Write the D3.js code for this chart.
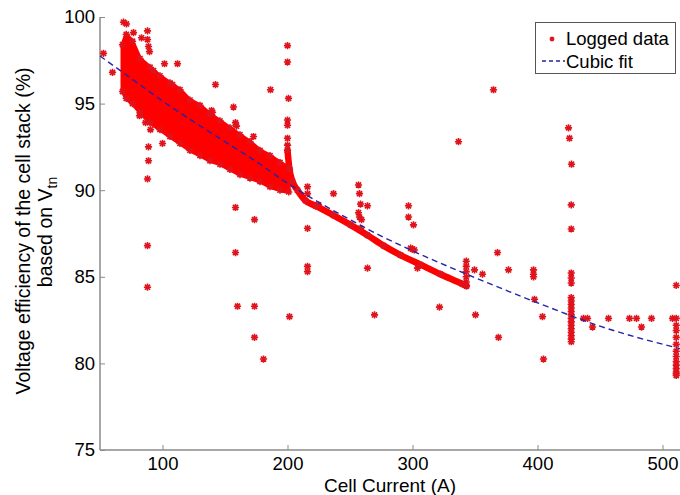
<!DOCTYPE html>
<html>
<head>
<meta charset="utf-8">
<title>Voltage efficiency vs cell current</title>
<script src="https://d3js.org/d3.v7.min.js"></script>
<style>
  body { margin: 0; background: #fff; }
  svg text { font-family: "Liberation Sans", Arial, sans-serif; fill: #000; }
</style>
</head>
<body>
<div id="chart"></div>
<script>
// ---- data ----
var xTicks = [100, 200, 300, 400, 500];
var yTicks = [75, 80, 85, 90, 95, 100];

// dense cloud of logged points (low current region): x with upper / lower edge
var bandX  = [68, 71, 76, 82, 90, 98, 106, 114, 122, 130, 138, 146, 154, 162, 170, 178, 186, 194, 201];
var bandHi = [98.4, 99.0, 98.6, 97.6, 97.1, 96.6, 96.2, 95.8, 95.2, 94.9, 94.4, 94.0, 93.6, 93.2, 92.8, 92.3, 92.0, 91.6, 91.3];
var bandLo = [95.7, 95.3, 95.0, 94.5, 93.9, 93.5, 93.1, 92.7, 92.3, 92.0, 91.7, 91.5, 91.2, 90.9, 90.7, 90.5, 90.2, 90.0, 89.9];

// dense thin trace of logged points (200 - 343 A)
var traceX = [200, 201.6, 204, 208, 214.4, 222.4, 236.8, 250.4, 264, 276.8, 290.4, 306.4, 322.4, 340, 343.2];
var traceY = [92.3, 91.2, 90.5, 90.0, 89.4, 89.1, 88.55, 88.0, 87.4, 86.8, 86.25, 85.7, 85.15, 84.58, 84.47];

// scattered logged points
var scatter = [
  [52.8,97.9],[60,96.8],[68.8,99.7],[71.2,99.6],[76.8,99.1],[83.2,98.8],[88,99.2],[88,98.7],
  [88.8,98.3],[89.6,98.0],[101.6,97.3],[112,97.3],[142.4,96.1],[92.8,96.9],[108,96.1],
  [81.6,94.3],[86.4,93.9],[90.4,93.5],[140,94.5],[88.8,92.5],[88.8,91.7],[88,90.65],
  [100,92.7],[156.8,94.8],[172.8,93.1],[88,86.8],[88,84.4],[158.4,89.0],[173.6,88.3],
  [158.4,86.4],[160,83.3],[173.6,83.3],[173.6,81.5],[180.8,80.25],[201.6,82.7],[216,87.8],
  [216,85.6],[216,85.3],[236.8,89.8],[256.8,90.3],[257.6,89.8],[258.4,89.2],[264,89.1],
  [256.8,88.7],[257.6,88.45],[259.2,88.3],[258.4,87.8],[264,85.5],[269.6,82.8],[216,90.2],
  [216,89.8],[224.8,89.15],[186.4,95.8],[200,97.4],[200,98.35],[200.8,95.3],[200,94.05],
  [200,93.75],[200,93.0],[200,92.6],[139.2,94.6],[158.4,93.9],[159.2,93.7],[364.8,95.8],
  [336.8,92.8],[424.8,93.6],[425.6,93.0],[427.2,91.5],[296.8,89.1],[296.8,88.45],[300.8,88.0],
  [298.5,86.65],[300,86.6],[301.5,86.55],[304,85.5],[321.6,83.25],[349.6,85.4],[356,85.15],
  [350.4,82.8],[368,86.4],[376.8,85.4],[368.8,81.5],[396.8,85.4],[396.8,85.15],[396.8,85.0],
  [397.6,83.7],[404,82.7],[404.8,80.25],[436.8,82.6],[440,82.6],[444,82.1],[456.8,82.6],
  [473.6,82.6],[479.2,82.6],[483.2,82.1],[491.2,82.6],[508,82.6],[511,84.5],
  [343,85.9],[343,85.6],[343,85.3],[343,85.0],[343,84.7]
];

// vertical columns of logged points at ~427 A and ~511 A
var col427X = 427;
var col427Y = [89.15, 87.76, 85.22, 84.93, 84.64, 83.8, 83.6, 83.4, 83.2, 83.0, 82.8, 82.6, 82.4, 82.2, 82.0, 81.8, 81.6, 81.4, 81.25];
var col511X = 511;
var col511Y = [82.6, 82.2, 81.9, 81.5, 81.1, 80.7, 80.4, 80.1, 79.9, 79.7, 79.5, 79.4, 79.3];

// cubic fit
var fitX = [50, 75, 100, 125, 150, 175, 200, 225, 250, 275, 300, 350, 400, 450, 514];
var fitY = [97.75, 96.45, 95.15, 93.95, 92.8, 91.65, 90.4, 89.3, 88.3, 87.35, 86.5, 84.95, 83.5, 82.15, 80.85];

// ---- layout ----
var W = 680, H = 495;
var plotL = 100, plotR = 680, plotT = 17, plotB = 450;
var red = "#ff0000", starRed = "#e0121c", fitBlue = "#2424a8", axisGrey = "#8a8a8a";

var svg = d3.select("#chart").append("svg")
  .attr("width", W).attr("height", H);

var x = d3.scaleLinear().domain([50, 514]).range([plotL, plotR]);
var y = d3.scaleLinear().domain([75, 100]).range([plotB, plotT]);

function star(r) {
  var d = r * 0.72;
  return "M" + (-r) + ",0L" + r + ",0M0," + (-r) + "L0," + r +
    "M" + (-d) + "," + (-d) + "L" + d + "," + d +
    "M" + (-d) + "," + d + "L" + d + "," + (-d);
}

// axes (only left and bottom, ticks inward)
var xAxis = d3.axisBottom(x).tickValues(xTicks).tickSize(-5).tickPadding(7);
var yAxis = d3.axisLeft(y).tickValues(yTicks).tickSize(-5).tickPadding(5);

var gx = svg.append("g").attr("transform", "translate(0," + plotB + ")").call(xAxis);
var gy = svg.append("g").attr("transform", "translate(" + plotL + ",0)").call(yAxis);
[gx, gy].forEach(function (g) {
  g.select(".domain").attr("stroke", axisGrey).attr("stroke-width", 1.5);
  g.selectAll(".tick line").attr("stroke", axisGrey).attr("stroke-width", 1);
  g.selectAll(".tick text").style("font-size", "18.5px").attr("fill", "#000");
});
gy.select(".domain").attr("d", "M0," + plotB + "V" + plotT);
gx.select(".domain").attr("d", "M" + plotL + ",0H" + plotR);

// dense cloud
var bandData = bandX.map(function (v, i) { return { x: v, hi: bandHi[i], lo: bandLo[i] }; });
var area = d3.area()
  .x(function (d) { return x(d.x); })
  .y0(function (d) { return y(d.lo); })
  .y1(function (d) { return y(d.hi); });
svg.append("path").datum(bandData)
  .attr("d", area)
  .attr("fill", red).attr("stroke", red).attr("stroke-width", 4)
  .attr("stroke-linejoin", "round");

// thin dense trace
var traceData = traceX.map(function (v, i) { return [v, traceY[i]]; });
svg.append("path").datum(traceData)
  .attr("d", d3.line().x(function (d) { return x(d[0]); }).y(function (d) { return y(d[1]); }).curve(d3.curveMonotoneX))
  .attr("fill", "none").attr("stroke", red).attr("stroke-width", 6.5)
  .attr("stroke-linecap", "round");

// all individual star markers
var stars = scatter.slice();
bandData.forEach(function (d) { stars.push([d.x, d.hi]); stars.push([d.x, d.lo]); });
traceData.forEach(function (d) { stars.push(d); });
col427Y.forEach(function (v) { stars.push([col427X, v]); });
col511Y.forEach(function (v) { stars.push([col511X, v]); });

svg.append("g").selectAll("path").data(stars).join("path")
  .attr("transform", function (d) { return "translate(" + x(d[0]) + "," + y(d[1]) + ")"; })
  .attr("d", star(3.6))
  .attr("fill", "none").attr("stroke", starRed).attr("stroke-width", 1.6);

// cubic fit
var fitData = fitX.map(function (v, i) { return [v, fitY[i]]; });
svg.append("path").datum(fitData)
  .attr("d", d3.line().x(function (d) { return x(d[0]); }).y(function (d) { return y(d[1]); }).curve(d3.curveMonotoneX))
  .attr("fill", "none").attr("stroke", fitBlue).attr("stroke-width", 1.4)
  .attr("stroke-dasharray", "6,4");

// legend
var lg = svg.append("g");
lg.append("rect").attr("x", 535.5).attr("y", 22.5).attr("width", 140).attr("height", 51)
  .attr("fill", "#fff").attr("stroke", "#555").attr("stroke-width", 1);
lg.append("path").attr("transform", "translate(552,39)").attr("d", star(2.4))
  .attr("fill", "none").attr("stroke", starRed).attr("stroke-width", 1.3);
lg.append("text").attr("x", 566).attr("y", 45).style("font-size", "18.5px").text("Logged data");
lg.append("line").attr("x1", 542).attr("x2", 565).attr("y1", 61).attr("y2", 61)
  .attr("stroke", fitBlue).attr("stroke-width", 1.4).attr("stroke-dasharray", "4,3");
lg.append("text").attr("x", 566).attr("y", 68).style("font-size", "18.5px").text("Cubic fit");

// axis titles
svg.append("text").attr("x", (plotL + plotR) / 2).attr("y", 492)
  .attr("text-anchor", "middle").style("font-size", "19px").text("Cell Current (A)");

var yt = svg.append("g").attr("transform", "rotate(-90)");
yt.append("text").attr("x", -231).attr("y", 30).attr("text-anchor", "middle")
  .style("font-size", "19.5px").text("Voltage efficiency of the cell stack (%)");
var t2 = yt.append("text").attr("x", -232).attr("y", 52).attr("text-anchor", "middle")
  .style("font-size", "19.5px");
t2.append("tspan").text("based on V");
t2.append("tspan").attr("dy", 5).style("font-size", "14px").text("tn");
</script>
</body>
</html>
